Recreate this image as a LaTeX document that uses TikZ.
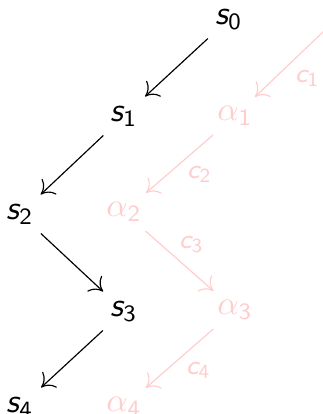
\documentclass[tikz,border=0pt]{standalone}
\usetikzlibrary{arrows.meta}
\definecolor{faded}{RGB}{255,205,205}
\newcommand{\sv}[1]{\textsf{\slshape s}_{\mathsf{#1}}}
\newcommand{\cv}[1]{\textsf{\slshape c}_{\mathsf{#1}}}
\begin{document}
\begin{tikzpicture}[x=0.3pt,y=-0.3pt,
  st/.style={inner sep=2.6pt},
  sarr/.style={draw=black,line width=0.35pt,-{To[length=3.6pt,width=6.4pt]}},
  parr/.style={draw=faded,line width=0.35pt,-{To[length=3.6pt,width=6.4pt]}},
  pnode/.style={inner sep=2.6pt,text=faded},
  clab/.style={font=\footnotesize,text=faded,inner sep=0pt}]
\useasboundingbox (0,0) rectangle (323,414);
\node[st] (s0) at (229,19) {$\sv{0}$};
\node[st] (s1) at (124,116) {$\sv{1}$};
\node[st] (s2) at (20,214) {$\sv{2}$};
\node[st] (s3) at (124,311) {$\sv{3}$};
\node[st] (s4) at (20,407) {$\sv{4}$};
\node[pnode] (a1) at (235,116) {$\alpha_{\mathsf{1}}$};
\node[pnode] (a2) at (124,212) {$\alpha_{\mathsf{2}}$};
\node[pnode] (a3) at (235,310) {$\alpha_{\mathsf{3}}$};
\node[pnode] (a4) at (124,407) {$\alpha_{\mathsf{4}}$};
\coordinate (a0) at (324,31);
\draw[sarr] (s0) -- (s1);
\draw[sarr] (s1) -- (s2);
\draw[sarr] (s2) -- (s3);
\draw[sarr] (s3) -- (s4);
\draw[parr] (a0) -- node[clab,midway,xshift=5.4pt,yshift=-4.2pt] {$\cv{1}$} (a1);
\draw[parr] (a1) -- node[clab,midway,xshift=6pt,yshift=-3pt] {$\cv{2}$} (a2);
\draw[parr] (a2) -- node[clab,midway,xshift=3.6pt,yshift=5.1pt] {$\cv{3}$} (a3);
\draw[parr] (a3) -- node[clab,midway,xshift=5.7pt,yshift=-3.6pt] {$\cv{4}$} (a4);
\end{tikzpicture}
\end{document}
